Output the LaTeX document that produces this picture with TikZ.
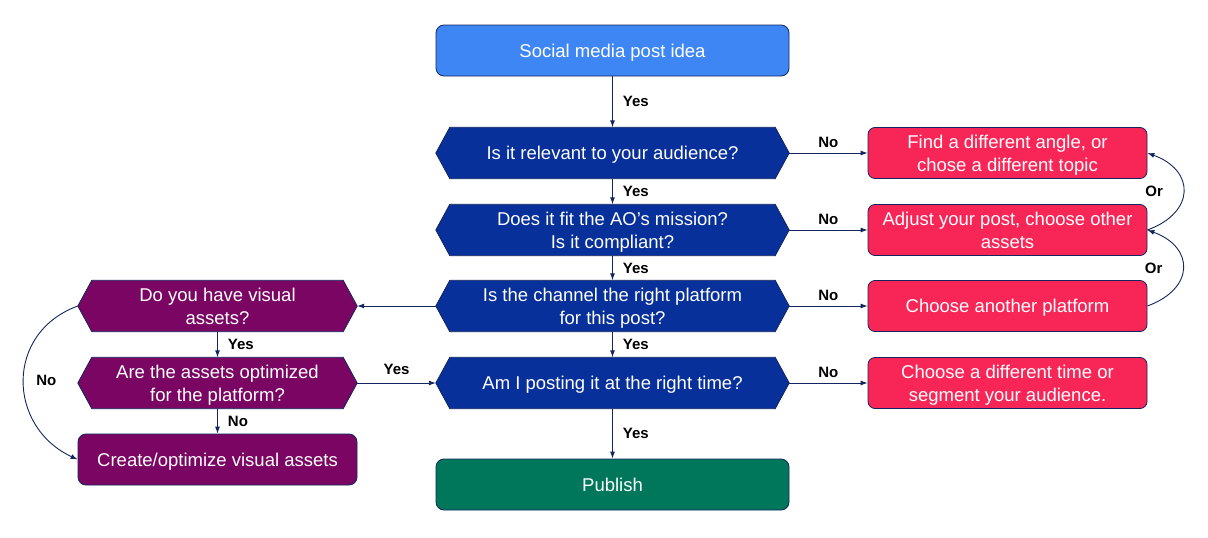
\documentclass[tikz,border=0pt]{standalone}
\usepackage{fontspec}
\setmainfont{Liberation Sans}
\usetikzlibrary{arrows.meta}
\pgfdeclarelayer{bg}
\pgfsetlayers{bg,main}
\definecolor{topblue}{HTML}{3F86F5}
\definecolor{hexblue}{HTML}{08309A}
\definecolor{plum}{HTML}{7A0562}
\definecolor{crimson}{HTML}{F82557}
\definecolor{pubgreen}{HTML}{00775A}
\definecolor{navy}{HTML}{14265E}
\newcommand{\hexshape}[2]{%
  \begin{pgfonlayer}{bg}
  \filldraw[#2] (#1.west) -- ([xshift=14pt]#1.north west) -- ([xshift=-14pt]#1.north east)
    -- (#1.east) -- ([xshift=-14pt]#1.south east) -- ([xshift=14pt]#1.south west) -- cycle;
  \end{pgfonlayer}}
\tikzset{
  txt/.style={inner sep=0pt, align=center, text=white, text depth=0pt, font=\fontsize{18.5}{23}\selectfont},
  wide/.style={txt, minimum width=353pt, minimum height=51pt},
  narrow/.style={txt, minimum width=279pt, minimum height=51pt},
  roundbox/.style={draw=navy, line width=0.8pt, rounded corners=8pt},
  hexfill/.style={draw=navy, line width=0.8pt, fill=#1},
  conn/.style={draw=navy, line width=0.9pt, -{Latex[length=7pt,width=5pt]}},
  lab/.style={inner sep=0pt, text=black, font=\bfseries\fontsize{15}{17}\selectfont}
}
\begin{document}
\begin{tikzpicture}[x=1pt,y=1pt]
\useasboundingbox (0,0) rectangle (1208,-538);
% main column
\node[wide, roundbox, fill=topblue] (top) at (612.5,-50.5) {Social media post idea};
\node[wide] (h1) at (612.5,-153) {Is it relevant to your audience?};
\node[wide] (h2) at (612.5,-230) {Does it fit the AO’s mission?\\Is it compliant?};
\node[wide] (h3) at (612.5,-306) {Is the channel the right platform\\for this post?};
\node[wide] (h4) at (612.5,-383) {Am I posting it at the right time?};
\node[wide, roundbox, fill=pubgreen] (pub) at (612.5,-484.5) {Publish};
\hexshape{h1}{hexfill=hexblue}
\hexshape{h2}{hexfill=hexblue}
\hexshape{h3}{hexfill=hexblue}
\hexshape{h4}{hexfill=hexblue}
% left column
\node[narrow] (p1) at (217.5,-306) {Do you have visual\\assets?};
\node[narrow] (p2) at (217.5,-383) {Are the assets optimized\\for the platform?};
\node[narrow, roundbox, fill=plum] (cr) at (217.5,-459.5) {Create/optimize visual assets};
\hexshape{p1}{hexfill=plum}
\hexshape{p2}{hexfill=plum}
% right column
\node[narrow, roundbox, rounded corners=7pt, fill=crimson] (r1) at (1007.5,-153) {Find a different angle, or\\chose a different topic};
\node[narrow, roundbox, rounded corners=7pt, fill=crimson] (r2) at (1007.5,-230) {Adjust your post, choose other\\assets};
\node[narrow, roundbox, rounded corners=7pt, fill=crimson] (r3) at (1007.5,-306) {Choose another platform};
\node[narrow, roundbox, rounded corners=7pt, fill=crimson] (r4) at (1007.5,-383) {Choose a different time or\\segment your audience.};
% vertical main arrows
\draw[conn] (top) -- node[lab, midway, right=10pt] {Yes} (h1);
\draw[conn] (h1) -- node[lab, midway, right=10pt] {Yes} (h2);
\draw[conn] (h2) -- node[lab, midway, right=10pt] {Yes} (h3);
\draw[conn] (h3) -- node[lab, midway, right=10pt] {Yes} (h4);
\draw[conn] (h4) -- node[lab, midway, right=10pt] {Yes} (pub);
% No arrows to the right
\draw[conn] (h1.east) -- node[lab, midway, above=5pt] {No} (r1.west);
\draw[conn] (h2.east) -- node[lab, midway, above=5pt] {No} (r2.west);
\draw[conn] (h3.east) -- node[lab, midway, above=5pt] {No} (r3.west);
\draw[conn] (h4.east) -- node[lab, midway, above=5pt] {No} (r4.west);
% left branch
\draw[conn] (h3.west) -- (p1.east);
\draw[conn] (p1) -- node[lab, midway, right=10pt] {Yes} (p2);
\draw[conn] (p2) -- node[lab, midway, right=10pt] {No} (cr);
\draw[conn] (p2.east) -- node[lab, midway, above=8pt] {Yes} (h4.west);
\draw[conn] (p1.west) to[out=200, in=155, looseness=1.3] node[lab, pos=0.5, right=12pt] {No} (cr.west);
% Or curves
\draw[conn] (r2.east) to[out=20, in=-20, looseness=1.7] node[lab, pos=0.5, left=20pt] {Or} (r1.east);
\draw[conn] (r3.east) to[out=20, in=-20, looseness=1.7] node[lab, pos=0.5, left=20pt] {Or} (r2.east);
\end{tikzpicture}
\end{document}
